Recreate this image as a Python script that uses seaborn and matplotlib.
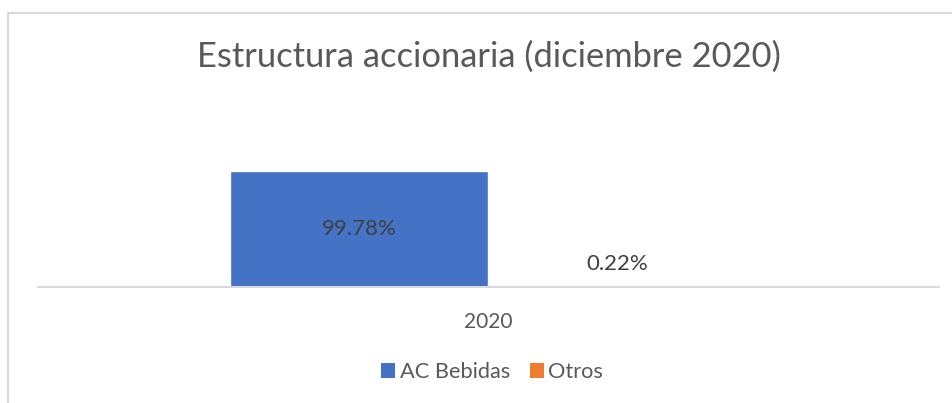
import pandas as pd
import matplotlib.pyplot as plt
import seaborn as sns
from matplotlib.lines import Line2D
from matplotlib.patches import Patch

# ── Datos ────────────────────────────────────────
anios = ['2020']
series = ['AC Bebidas', 'Otros']
valores = [99.78, 0.22]
colores = ['#4472C4', '#ED7D31']

df = pd.DataFrame({
    'anio': anios * len(series),
    'serie': series,
    'valor': valores,
})

sns.set_style('white')
plt.rcParams['font.family'] = ['Lato', 'DejaVu Sans']

fig = plt.figure(figsize=(9.53, 4.03), dpi=100)
ax = fig.add_axes([38 / 953, 1 - 287 / 403, 901 / 953, 139.5 / 403])

sns.barplot(data=df, x='anio', y='valor', hue='serie', palette=colores,
            width=0.573, dodge=True, ax=ax, legend=False, saturation=1)

ax.set_ylim(0, 120)
ax.set_xlim(-0.5, 0.5)
ax.set_yticks([])
ax.set_xlabel('')
ax.set_ylabel('')
for s in ['top', 'left', 'right']:
    ax.spines[s].set_visible(False)
ax.spines['bottom'].set_color('#D9D9D9')
ax.spines['bottom'].set_linewidth(1.5)
ax.tick_params(axis='x', length=0, pad=18, labelsize=15, labelcolor='#595959')

# etiquetas de datos
ax.bar_label(ax.containers[0], labels=[f'{v:.2f}%' for v in valores[:1]],
             label_type='center', fontsize=16, color='#404040')
ax.bar_label(ax.containers[1], labels=[f'{v:.2f}%' for v in valores[1:]],
             label_type='edge', padding=9, fontsize=16, color='#404040')

fig.text(489 / 953, 1 - 57 / 403, 'Estructura accionaria (diciembre 2020)',
         ha='center', va='center', fontsize=24.8, color='#595959')

handles = [Patch(facecolor=c, edgecolor='none') for c in colores]
fig.legend(handles, series, loc='center', bbox_to_anchor=(492 / 953, 1 - 372 / 403),
           ncol=2, frameon=False, fontsize=15.7, labelcolor='#595959',
           handlelength=0.65, handleheight=0.65, handletextpad=0.2, columnspacing=0.9)

# borde del área del gráfico
fig.add_artist(Line2D([8 / 953, 1], [1 - 13 / 403, 1 - 13 / 403], color='#D9D9D9', lw=1.5))
fig.add_artist(Line2D([8 / 953, 8 / 953], [0, 1 - 13 / 403], color='#D9D9D9', lw=1.5))

plt.savefig('out.png', dpi=100)
